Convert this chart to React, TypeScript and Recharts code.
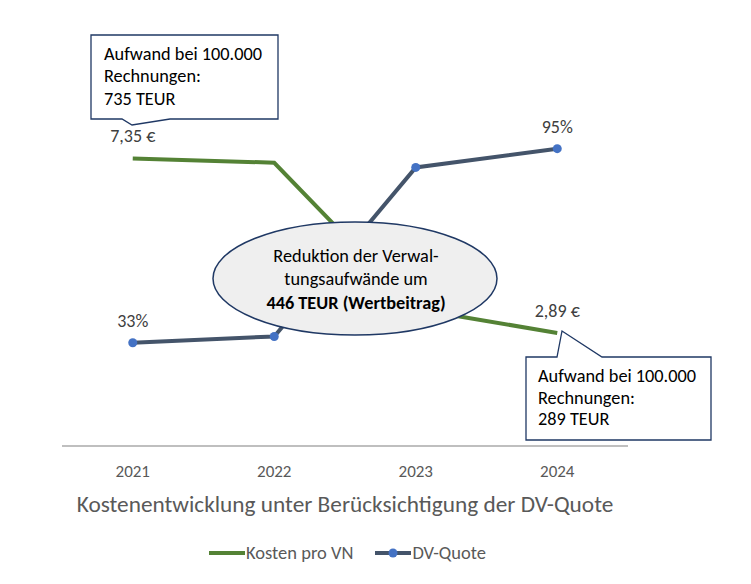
import React from "react";
import { ComposedChart, Line, XAxis, YAxis, Legend, LabelList } from "recharts";

const years = ["2021", "2022", "2023", "2024"];
const kostenProVN = [7.35, 7.24, 3.5, 2.89];
const dvQuote = [0.33, 0.35, 0.89, 0.95];
const kostenLabels = ["7,35 €", "", "", "2,89 €"];
const dvLabels = ["33%", "", "", "95%"];

const data = years.map((y, i) => ({
  year: y,
  kosten: kostenProVN[i],
  dv: dvQuote[i],
  kLabel: kostenLabels[i],
  dLabel: dvLabels[i],
}));

const FONT = "Carlito, Calibri, Lato, 'Noto Sans', sans-serif";
const GREEN = "#548235";
const SLATE = "#44546a";
const DOT = "#4472c4";
const NAVY = "#1f3864";

const renderLabel = (field: "kLabel" | "dLabel") => (props: any) => {
  const { x, y, index } = props;
  const txt = data[index]?.[field];
  if (!txt) return null;
  return (
    <text x={x} y={y - 16} textAnchor="middle" fill="#404040" fontSize={18} fontFamily={FONT}>
      {txt}
    </text>
  );
};

const LegendContent = () => (
  <div style={{ display: "flex", justifyContent: "center", alignItems: "center", fontFamily: FONT, fontSize: 18.5, color: "#595959", paddingLeft: 0 }}>
    <svg width={36} height={12} style={{ marginRight: 1 }}>
      <line x1={0} y1={6} x2={36} y2={6} stroke={GREEN} strokeWidth={4} />
    </svg>
    <span style={{ marginRight: 22 }}>Kosten pro VN</span>
    <svg width={36} height={12} style={{ marginRight: 1 }}>
      <line x1={0} y1={6} x2={36} y2={6} stroke={SLATE} strokeWidth={4} />
      <circle cx={18} cy={6} r={4.5} fill={DOT} />
    </svg>
    <span>DV-Quote</span>
  </div>
);

const Overlay = () => (
  <svg width={751} height={584} style={{ position: "absolute", left: 0, top: 0, pointerEvents: "none" }}>
    {/* top-left callout */}
    <path
      d="M91,35 L278,35 L278,119 L170,119 L132,125 L122,119 L91,119 Z"
      fill="#ffffff"
      stroke={NAVY}
      strokeWidth={1.3}
    />
    <text fontFamily={FONT} fontSize={18.3} fill="#000">
      <tspan x={104} y={60}>Aufwand bei 100.000</tspan>
      <tspan x={104} y={82}>Rechnungen:</tspan>
      <tspan x={104} y={105}>735 TEUR</tspan>
    </text>
    {/* bottom-right callout */}
    <path
      d="M526,357 L557,357 L562,331 L602,357 L711,357 L711,440 L526,440 Z"
      fill="#ffffff"
      stroke={NAVY}
      strokeWidth={1.3}
    />
    <text fontFamily={FONT} fontSize={18.3} fill="#000">
      <tspan x={538} y={382}>Aufwand bei 100.000</tspan>
      <tspan x={538} y={404}>Rechnungen:</tspan>
      <tspan x={538} y={425}>289 TEUR</tspan>
    </text>
    {/* ellipse */}
    <ellipse cx={355} cy={278.5} rx={142} ry={56.5} fill="#efefef" stroke={NAVY} strokeWidth={1.5} />
    <text fontFamily={FONT} fontSize={18.3} fill="#000" textAnchor="middle">
      <tspan x={356} y={262}>Reduktion der Verwal-</tspan>
      <tspan x={356} y={285}>tungsaufwände um</tspan>
      <tspan x={356} y={309} fontWeight="bold">446 TEUR (Wertbeitrag)</tspan>
    </text>
  </svg>
);

export default function App() {
  return (
    <div style={{ position: "absolute", left: 0, top: 0, width: 751, height: 584, background: "#fff" }}>
      <ComposedChart
        width={751}
        height={584}
        data={data}
        margin={{ top: 133, right: 123, bottom: 108, left: 62 }}
      >
        <XAxis
          dataKey="year"
          scale="band"
          axisLine={{ stroke: "#bfbfbf", strokeWidth: 2 }}
          tickLine={false}
          tick={{ fill: "#595959", fontSize: 17, fontFamily: FONT }}
          tickMargin={13}
          label={{
            value: "Kostenentwicklung unter Berücksichtigung der DV-Quote",
            position: "bottom",
            offset: 19,
            fill: "#595959",
            fontSize: 23.3,
            fontFamily: FONT,
          }}
        />
        <YAxis yAxisId="cost" hide domain={[0, 8]} width={0} />
        <YAxis yAxisId="dv" hide domain={[0, 1]} orientation="right" width={0} />
        <Line
          yAxisId="cost"
          dataKey="kosten"
          name="Kosten pro VN"
          stroke={GREEN}
          strokeWidth={4}
          dot={false}
          isAnimationActive={false}
        >
          <LabelList dataKey="kLabel" content={renderLabel("kLabel")} />
        </Line>
        <Line
          yAxisId="dv"
          dataKey="dv"
          name="DV-Quote"
          stroke={SLATE}
          strokeWidth={4}
          dot={{ r: 4.5, fill: DOT, stroke: DOT, strokeWidth: 0 }}
          isAnimationActive={false}
        >
          <LabelList dataKey="dLabel" content={renderLabel("dLabel")} />
        </Line>
        <Legend
          verticalAlign="middle"
          layout="horizontal"
          align="center"
          content={<LegendContent />}
          wrapperStyle={{ top: 541, left: 0, width: 695 }}
        />
      </ComposedChart>
      <Overlay />
    </div>
  );
}
